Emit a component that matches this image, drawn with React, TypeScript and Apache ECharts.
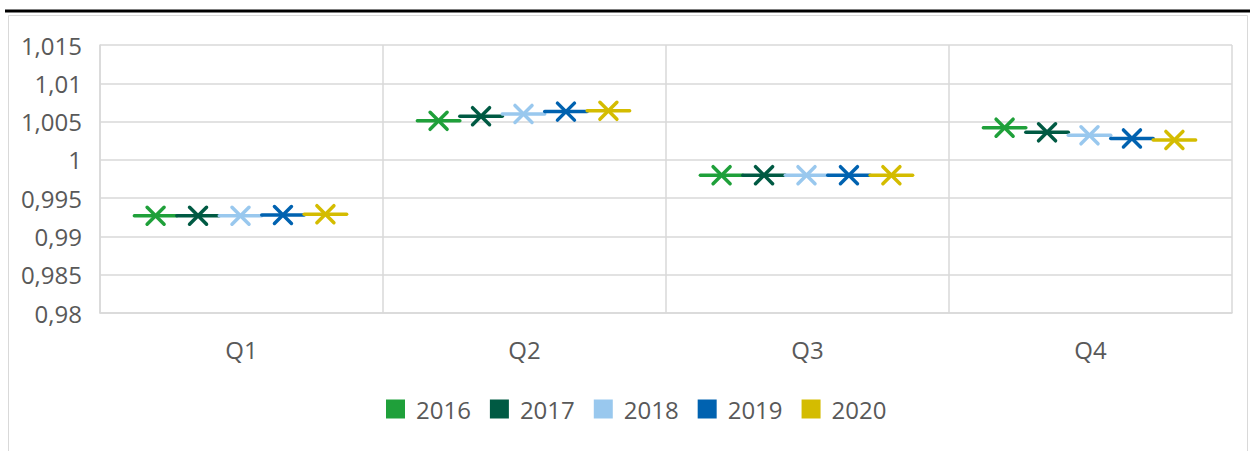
import React, { useEffect, useRef } from "react";
import * as echarts from "echarts";

const categories = ["Q1", "Q2", "Q3", "Q4"];
const years = ["2016", "2017", "2018", "2019", "2020"];
const colors = ["#1fa03a", "#005a43", "#99c8ee", "#0062b0", "#d4bc00"];
const values2016 = [0.9927, 1.0051, 0.998, 1.0042];
const values2017 = [0.9927, 1.0057, 0.998, 1.0036];
const values2018 = [0.9927, 1.006, 0.998, 1.0032];
const values2019 = [0.9928, 1.0063, 0.998, 1.0028];
const values2020 = [0.9929, 1.0064, 0.998, 1.0026];
const seriesValues = [values2016, values2017, values2018, values2019, values2020];

const FONT = "'Open Sans', 'Noto Sans', sans-serif";

export default function App() {
  const ref = useRef<HTMLDivElement>(null);
  useEffect(() => {
    if (!ref.current) return;
    const chart = echarts.init(ref.current, null, { renderer: "svg" });
    const n = years.length;
    const series = years.map((y, si) => ({
      name: y,
      type: "custom",
      itemStyle: { color: colors[si] },
      data: seriesValues[si].map((v, ci) => [ci, v]),
      renderItem: (params: any, api: any) => {
        const pt = api.coord([api.value(0), api.value(1)]);
        const band = api.size([1, 0])[0];
        const slot = band * 0.15;
        const cx = pt[0] + (si - (n - 1) / 2) * slot - 1;
        const cy = pt[1];
        const half = slot / 2;
        const m = 8.5;
        const style = { stroke: colors[si], lineWidth: 3.5, lineCap: "round" };
        return {
          type: "group",
          children: [
            { type: "line", shape: { x1: cx - half, y1: cy, x2: cx + half, y2: cy }, style },
            { type: "line", shape: { x1: cx - m, y1: cy - m, x2: cx + m, y2: cy + m }, style },
            { type: "line", shape: { x1: cx - m, y1: cy + m, x2: cx + m, y2: cy - m }, style },
          ],
        };
      },
    }));
    chart.setOption({
      animation: false,
      textStyle: { fontFamily: FONT },
      graphic: [
        {
          type: "rect",
          shape: { x: 8.5, y: 15.5, width: 1239, height: 460 },
          style: { fill: "#fff", stroke: "#d9d9d9", lineWidth: 1 },
          z: -10,
        },
        {
          type: "line",
          shape: { x1: 5, y1: 11, x2: 1250, y2: 11 },
          style: { stroke: "#000", lineWidth: 3 },
        },
      ],
      grid: { left: 100, right: 18, top: 45, bottom: 138 },
      xAxis: {
        type: "category",
        data: categories,
        boundaryGap: true,
        axisLine: { show: true, lineStyle: { color: "#d9d9d9", width: 1.5 } },
        axisTick: { show: false },
        splitLine: { show: true, interval: 0, lineStyle: { color: "#d9d9d9", width: 1.5 } },
        axisLabel: { fontSize: 24, color: "#595959", margin: 24, fontFamily: FONT },
      },
      yAxis: {
        type: "value",
        min: 0.98,
        max: 1.015,
        interval: 0.005,
        axisLine: { show: true, lineStyle: { color: "#d9d9d9", width: 1.5 } },
        axisTick: { show: false },
        splitLine: { show: true, lineStyle: { color: "#d9d9d9", width: 1.5 } },
        axisLabel: {
          fontSize: 24,
          color: "#595959",
          margin: 18,
          fontFamily: FONT,
          formatter: (v: number) => parseFloat(v.toFixed(3)).toString().replace(".", ","),
        },
      },
      legend: {
        data: years,
        top: 392,
        left: 381,
        icon: "rect",
        itemWidth: 19,
        itemHeight: 19,
        itemGap: 19,
        textStyle: { fontSize: 24, color: "#595959", fontFamily: FONT, padding: [0, 0, 0, 6] },
      },
      series,
    });
    return () => chart.dispose();
  }, []);
  return (
    <div
      ref={ref}
      style={{ position: "absolute", left: 0, top: 0, width: 1250, height: 451, background: "#fff" }}
    />
  );
}
